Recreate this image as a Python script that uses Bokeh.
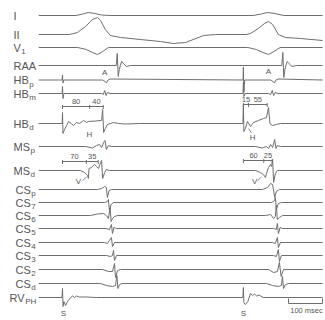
from bokeh.plotting import figure
from bokeh.models import Range1d, ColumnDataSource
from bokeh.embed import file_html
from bokeh.resources import INLINE
from bokeh.core.properties import value

# ---------------- data ----------------
LABEL_MAIN = ["I", "II", "V", "RAA", "HB", "HB", "HB", "MS", "MS",
              "CS", "CS", "CS", "CS", "CS", "CS", "CS", "CS", "RV"]
LABEL_SUB = ["", "", "1", "", "p", "m", "d", "p", "d",
             "p", "7", "6", "5", "4", "3", "2", "d", "PH"]

STIM_MS = [0, 532]            # pacing stimuli (ms)

# each channel: time (ms) and deflection (arbitrary units, + = up)
I_t = [-70, 40, 60, 76, 95, 115, 140, 560, 585, 603, 625, 650, 765]
I_v = [0, 0, 1.5, 3, 2, 0.5, 0, 0, 1.5, 3, 2, 0, 0]

II_t = [-70, 20, 44, 68, 88, 103, 112, 126, 141, 171, 229, 288, 326, 362, 415,
        450, 540, 553, 576, 594, 606, 618, 635, 656, 700, 765]
II_v = [0, 0, 2, 8, 15, 17, 14, 5, -1, -3, -5, -7, -9, -8, -1,
        0, 0, 1, 6, 11, 13, 10, 0, -3, -4, -6]

V1_t = [-70, 45, 70, 88, 103, 118, 135, 545, 570, 590, 606, 622, 640, 765]
V1_v = [0, 0, -2, -5, -7, -4, 0, 0, -2, -5, -7, -4, 0, 0]

RAA_t = [-70, 158, 161, 164, 167, 170, 174, 179, 188, 200,
         645, 648, 651, 654, 657, 661, 666, 675, 688, 765]
RAA_v = [0, 0, 12, -11, -4, 0, 4, 2, -1, 0,
         0, 13, -12, -4, 0, 4, 2, -1, 0, 0]

HBp_t = [-70, -1, 0, 1.5, 4, 118, 124, 129, 134, 140,
         531, 532, 533.5, 536, 612, 618, 623, 628, 634, 765]
HBp_v = [0, 0, 5, -3, 0, 0, -1, -3, 0, 1,
         0, 13, -12, 0, 0, -1, -3, 0, 1, 0]

HBm_t = [-70, -1, 0, 1.5, 4, 115, 120, 124, 128, 132, 140,
         531, 532, 533.5, 537, 605, 612, 617, 621, 626, 634, 765]
HBm_v = [0, 0, 7, -5, 0, 0, -1, 3, -2, 1, 0,
         0, 11, -3, 0, 0, -1, 3, -2, 1, 0, 0]

HBd_t = [-70, -1, 0, 1.5, 6, 12, 18, 26, 32, 41, 50, 62, 71, 76, 97, 115, 118,
         121, 126, 132, 141, 150, 165, 185, 229,
         530.5, 532, 533.5, 538, 544, 553, 562, 576, 591, 600, 606, 610, 618,
         629, 641, 765]
HBd_v = [0, 0, 11, -10, -6, -2, 2, 0, -2, 1, 0, 3, 1, 2, 2.5, 3, 14,
         -9, -5, -1, 0, 1, 0, -0.5, 0,
         0, 19, -8, -5, 2, -3, 1, 3, 5, 6, 16, 0, -2,
         -1, 0, 0]

MSp_t = [-70, 68, 88, 100, 109, 115, 121, 125, 129, 135, 144,
         568, 588, 600, 606, 612, 618, 624, 628, 632, 641, 765]
MSp_v = [0, 0, -1.5, 1, 2, -1, 4, 6, -3, 1, 0,
         0, -1.5, 0, -2, 2, -1, 7, -2, 1, 0, 0]

MSd_t = [-70, 53, 65, 74, 76, 78, 85, 94, 100, 106, 112, 115, 118, 124, 129, 138,
         568, 582, 591, 597, 600, 606, 612, 615, 618, 621, 626, 632, 765]
MSd_v = [0, 0, -2, -5, -8, 2, 3, 6, 4, 2, 8, 10, -8, -2, 1, 0,
         0, -2, -4, -7, -3, 3, 6, 4, 11, -12, -3, 0, 0]

CSp_t = [-70, 103, 115, 124, 129, 132, 137, 144, 588, 603, 612, 618, 624, 629, 638, 765]
CSp_v = [0, 0, 1, 3, 2, -8, -1, 0, 0, 2, 6, 5, -8, -2, 0, 0]

CS7_t = [-70, 124, 132, 135, 138, 143, 150, 615, 624, 626, 629, 635, 644, 765]
CS7_v = [0, 0, 1, 3, -8, -2, 0, 0, 2, 5, -7, -1, 0, 0]

CS6_t = [-70, 82, 103, 121, 129, 135, 140, 143, 147, 153, 162,
         597, 612, 621, 626, 629, 632, 638, 647, 765]
CS6_v = [0, 0, 1.5, 2, 0, -3, 8, -6, -3, -1, 0,
         0, 1, -3, -1, 10, -4, -2, 0, 0]

CS5_t = [-70, 129, 138, 144, 147, 151, 159, 621, 629, 632, 635, 640, 647, 765]
CS5_v = [0, 0, -1, 4, -5, 1, 0, 0, -1, 5, -5, 1, 0, 0]

CS4_t = [-70, 124, 132, 138, 144, 147, 153, 618, 626, 632, 635, 641, 765]
CS4_v = [0, 0, -1, 2, 5, -4, 0, 0, -1, 5, -5, 0, 0]

CS3_t = [-70, 129, 141, 147, 150, 153, 159, 621, 629, 635, 638, 644, 765]
CS3_v = [0, 0, -1, 0, 5, -5, 0, 0, -1, 6, -6, 0, 0]

CS2_t = [-70, 118, 135, 147, 153, 156, 162, 171, 606, 621, 632, 638, 643, 650, 765]
CS2_v = [0, 0, -2, -2, 6, -8, -1, 0, 0, -3, -2, 7, -7, 0, 0]

CSd_t = [-70, 112, 129, 147, 156, 160, 163, 168, 176,
         600, 618, 635, 644, 647, 650, 656, 665, 765]
CSd_v = [0, 0, -2, -3, -2, 8, -5, -1, 0,
         0, -2, -3, -2, 7, -5, -1, 0, 0]

RVPH_t = [-70, -1.5, 0, 1.5, 4, 9, 15, 24, 30, 35, 41, 50, 70, 100,
          530.5, 532, 533.5, 538, 545, 553, 559, 565, 571, 578, 590, 765]
RVPH_v = [0, 0, 9, -9, -4, -8, -4, 0, 1.5, 0, 1.5, 0.5, 0.5, 0,
          0, 10, -5, -7, -4, 4, 2, 3.5, 1.5, 2.5, 0, 0]

TRACES = [(I_t, I_v), (II_t, II_v), (V1_t, V1_v), (RAA_t, RAA_v),
          (HBp_t, HBp_v), (HBm_t, HBm_v), (HBd_t, HBd_v),
          (MSp_t, MSp_v), (MSd_t, MSd_v),
          (CSp_t, CSp_v), (CS7_t, CS7_v), (CS6_t, CS6_v), (CS5_t, CS5_v),
          (CS4_t, CS4_v), (CS3_t, CS3_v), (CS2_t, CS2_v), (CSd_t, CSd_v),
          (RVPH_t, RVPH_v)]

# interval brackets (ms): HBd and MSd, two beats
HBD_INT_1 = [80, 40]
HBD_INT_2 = [15, 55]
MSD_INT_1 = [70, 35]
MSD_INT_2 = [60, 25]

# event annotations
EVENT_TEXT = ["A", "A", "H", "H", "V", "V", "S", "S"]
EVENT_MS = [124, 606, 79, 559, 47, 565, 3, 532]

SCALE_MS = 100
SCALE_LABEL = "100 msec"

# ---------------- layout ----------------
PX_PER_MS = 0.34
STIM_PX = 62
def px2ms(px):
    return (px - STIM_PX) / PX_PER_MS

BASELINE = [15, 34, 47, 65, 79.5, 93, 123, 146, 170, 189, 202, 215, 228,
            242, 255, 269, 283, 297]
LABEL_PX = [13, 13, 13, 13, 13, 13, 13, 13, 13, 15, 15, 15, 15, 15, 15, 15, 15, 9]
EVENT_Y = [72, 71, 134, 137, 181, 181, 313, 313]
BRACKET_Y = [106, 104, 161, 160]

TRACE_COLOR = "#6e6e6e"
TEXT_COLOR = "#555555"
FONT = "Liberation Sans"
MAIN_SIZE = 11
SUB_SIZE = 8
CHAR_W = {"I": 0.278, "H": 0.722, "B": 0.667, "M": 0.833, "S": 0.667,
          "C": 0.722, "R": 0.722, "V": 0.667, "A": 0.667}

p = figure(width=325, height=320,
           x_range=Range1d(px2ms(0), px2ms(325)),
           y_range=Range1d(320, 0),
           x_axis_type=None, y_axis_type=None,
           output_backend="svg", toolbar_location=None, min_border=0)
p.outline_line_color = None
p.background_fill_color = "white"
p.border_fill_color = "white"

# traces
xs, ys = [], []
for (tt, vv), b in zip(TRACES, BASELINE):
    xs.append(list(tt))
    ys.append([b - v for v in vv])
p.multi_line(xs=xs, ys=ys, line_color=TRACE_COLOR, line_width=1)

# channel labels
lab_src = ColumnDataSource(dict(
    x=[px2ms(v) for v in LABEL_PX], y=BASELINE, text=LABEL_MAIN))
p.text(x="x", y="y", text="text", source=lab_src, text_align="left",
       text_baseline="middle", text_font=value(FONT),
       text_font_size=value(f"{MAIN_SIZE}px"), text_color=TEXT_COLOR)
sub_src = ColumnDataSource(dict(
    x=[px2ms(v) for v in LABEL_PX], y=[b + 4 for b in BASELINE], text=LABEL_SUB,
    off=[sum(CHAR_W.get(c, 0.6) for c in m) * MAIN_SIZE + 0.5 for m in LABEL_MAIN]))
p.text(x="x", y="y", text="text", x_offset="off", source=sub_src, text_align="left",
       text_baseline="middle", text_font=value(FONT),
       text_font_size=value(f"{SUB_SIZE}px"), text_color=TEXT_COLOR)

# brackets
bx0, bx1, by0, by1 = [], [], [], []
tx0, ty0, ty1 = [], [], []
nx, ny, nt = [], [], []
for start, ints, yb in zip([STIM_MS[0], STIM_MS[1], STIM_MS[0], STIM_MS[1]],
                           [HBD_INT_1, HBD_INT_2, MSD_INT_1, MSD_INT_2], BRACKET_Y):
    pos = [start]
    for iv in ints:
        pos.append(pos[-1] + iv)
    bx0.append(pos[0]); bx1.append(pos[-1]); by0.append(yb); by1.append(yb)
    for q in pos:
        tx0.append(q); ty0.append(yb - 1.5); ty1.append(yb + 2.5)
    for a, b2, iv in zip(pos[:-1], pos[1:], ints):
        nx.append((a + b2) / 2); ny.append(yb - 5.5); nt.append(str(iv))
p.segment(x0=bx0, y0=by0, x1=bx1, y1=by1, line_color=TRACE_COLOR, line_width=1)
p.segment(x0=tx0, y0=ty0, x1=tx0, y1=ty1, line_color=TRACE_COLOR, line_width=1)
p.text(x=nx, y=ny, text=nt, text_align="center", text_baseline="middle",
       text_font=value(FONT), text_font_size=value("7.5px"), text_color=TEXT_COLOR)

# event letters
p.text(x=EVENT_MS, y=EVENT_Y, text=EVENT_TEXT, text_align="center",
       text_baseline="middle", text_font=value(FONT),
       text_font_size=value("8px"), text_color=TEXT_COLOR)
# small pointer strokes from V / H labels
p.segment(x0=[59, 574, 547], y0=[180, 180, 128], x1=[71, 585, 556], y1=[176.5, 176.5, 132.5],
          line_color=TRACE_COLOR, line_width=0.8)

# time scale bar
sb_end = px2ms(322)
sb_start = sb_end - SCALE_MS
p.segment(x0=[sb_start, sb_start, sb_end], y0=[303, 298, 298],
          x1=[sb_end, sb_start, sb_end], y1=[303, 303, 303],
          line_color=TRACE_COLOR, line_width=1)
p.text(x=[(sb_start + sb_end) / 2 + 3], y=[310], text=[SCALE_LABEL], text_align="center",
       text_baseline="middle", text_font=value(FONT), text_font_size=value("7.5px"),
       text_color=TEXT_COLOR)

open("out.html", "w").write(file_html(p, INLINE))
